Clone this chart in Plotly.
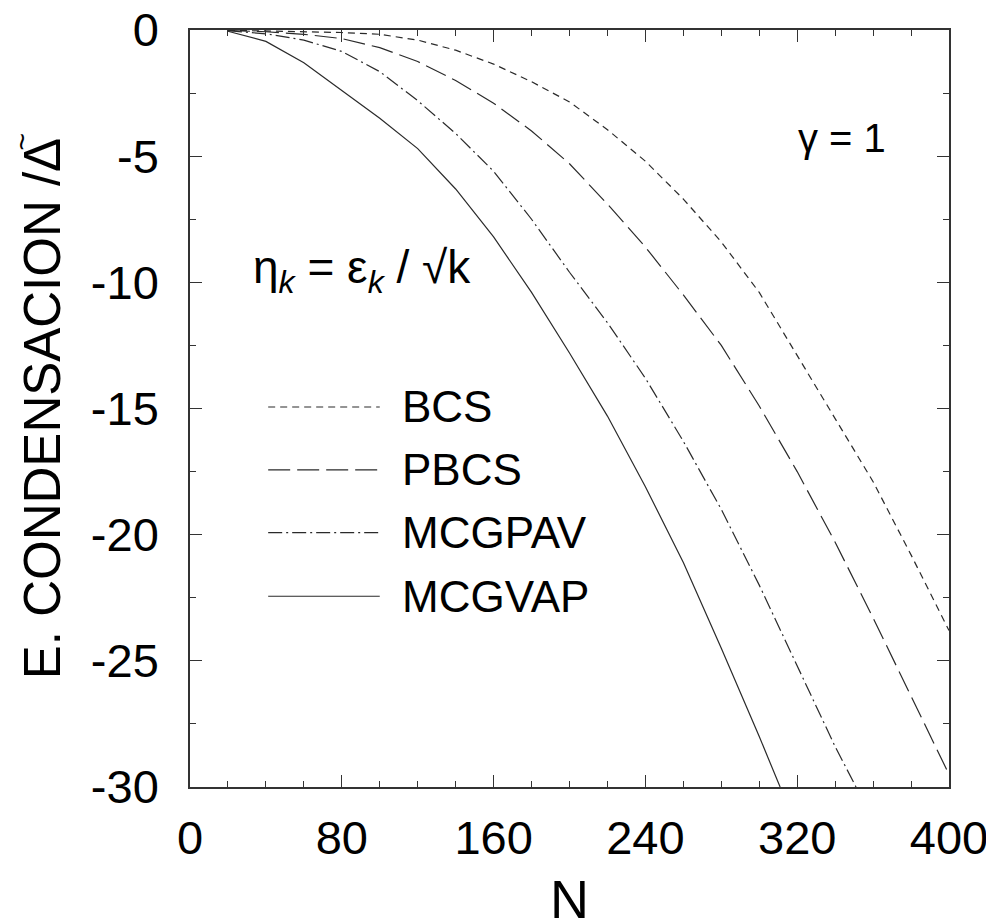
"""Energia de condensacion vs N (gamma = 1), cuatro aproximaciones."""
import plotly.graph_objects as go

# ---- datos ----
N = [20, 40, 60, 80, 100, 120, 140, 160, 180, 200, 220, 240, 260, 280, 300,
     320, 340, 360, 380, 400]

bcs = [-0.01, -0.03, -0.06, -0.10, -0.17, -0.40, -0.80, -1.35, -2.05, -2.85,
       -3.95, -5.2, -6.7, -8.4, -10.4, -12.9, -15.4, -17.9, -20.8, -23.8]

pbcs = [-0.02, -0.07, -0.17, -0.34, -0.70, -1.25, -2.0, -2.9, -4.0, -5.3,
        -6.9, -8.6, -10.5, -12.5, -14.9, -17.5, -20.3, -23.3, -26.4, -29.5]

mcgpav_n = [20, 40, 60, 80, 100, 120, 140, 160, 180, 200, 220, 240, 260, 280,
            300, 320, 340, 351]
mcgpav = [-0.03, -0.15, -0.40, -0.85, -1.65, -2.8, -4.1, -5.6, -7.5, -9.6,
          -11.6, -13.8, -16.3, -19.0, -22.0, -25.2, -28.4, -30.0]

mcgvap_n = [20, 40, 60, 80, 100, 120, 140, 160, 180, 200, 220, 240, 260, 280,
            300, 311]
mcgvap = [-0.05, -0.45, -1.3, -2.4, -3.5, -4.7, -6.3, -8.2, -10.4, -12.8,
          -15.3, -18.1, -21.1, -24.5, -28.0, -30.0]

x_ticks = [0, 80, 160, 240, 320, 400]
y_ticks = [0, -5, -10, -15, -20, -25, -30]
y_ticktext = ["0", "-5", "-10", "-15", "-20", "-25", "-30"]

LINE = "#2a2a2a"
FONT = "Liberation Sans, Arial, Helvetica, sans-serif"

series = [
    ("BCS", N, bcs, "7px,5px"),
    ("PBCS", N, pbcs, "22px,7px"),
    ("MCGPAV", mcgpav_n, mcgpav, "14px,4px,2px,4px"),
    ("MCGVAP", mcgvap_n, mcgvap, "solid"),
]

fig = go.Figure()
for name, xs, ys, dash in series:
    fig.add_trace(go.Scatter(
        x=xs, y=ys, mode="lines", name=name,
        line=dict(color=LINE, width=1.2, dash=dash),
    ))

# leyenda dibujada a mano (muestras largas como en el original)
leg_y = [0.502, 0.419, 0.336, 0.252]
for (name, _, _, dash), yy in zip(series, leg_y):
    fig.add_shape(type="line", xref="paper", yref="paper",
                  x0=0.103, x1=0.250, y0=yy, y1=yy,
                  line=dict(color=LINE, width=1.2, dash=dash))
    fig.add_annotation(text=name, xref="paper", yref="paper", x=0.277, y=yy,
                       xanchor="left", yanchor="middle", showarrow=False,
                       font=dict(size=44, color="black", family=FONT))

fig.add_annotation(text="η<sub><i>k</i></sub> = ε<sub><i>k</i></sub> / √k",
                   xref="paper", yref="paper", x=0.080, y=0.682,
                   xanchor="left", yanchor="middle", showarrow=False,
                   font=dict(size=46, color="black", family=FONT))
fig.add_annotation(text="γ = 1", xref="paper", yref="paper", x=0.859, y=0.857,
                   xanchor="center", yanchor="middle", showarrow=False,
                   font=dict(size=40, color="black", family=FONT))
# tilde sobre el Delta del titulo vertical
fig.add_annotation(text="~", xref="paper", yref="paper", x=-0.222, y=0.852,
                   xanchor="center", yanchor="middle", showarrow=False,
                   textangle=-90,
                   font=dict(size=30, color="black", family=FONT))

axis_common = dict(
    showgrid=False, zeroline=False, showline=True, linecolor="#333",
    linewidth=1.6, mirror="ticks", ticks="inside", tickcolor="#333",
    tickwidth=1.4, tickfont=dict(size=47, color="black", family=FONT),
    automargin=False, ticklabeloverflow="allow",
)

fig.update_layout(
    width=994, height=924,
    margin=dict(l=182, r=53, t=22, b=145),
    paper_bgcolor="white", plot_bgcolor="white",
    showlegend=False,
    xaxis=dict(
        range=[0, 400], tickvals=x_ticks, ticklen=12,
        minor=dict(dtick=20, ticklen=6, ticks="inside", tickcolor="#333"),
        ticklabelstandoff=9,
        title=dict(text="N", font=dict(size=54, color="black", family=FONT),
                   standoff=17),
        **axis_common,
    ),
    yaxis=dict(
        range=[-30, 0], tickvals=y_ticks, ticktext=y_ticktext, ticklen=12,
        minor=dict(dtick=2.5, ticklen=6, ticks="inside", tickcolor="#333"),
        ticklabelstandoff=20,
        title=dict(text="E. CONDENSACION /Δ",
                   font=dict(size=51, color="black", family=FONT),
                   standoff=14),
        **axis_common,
    ),
)

fig.write_html("out.html")
